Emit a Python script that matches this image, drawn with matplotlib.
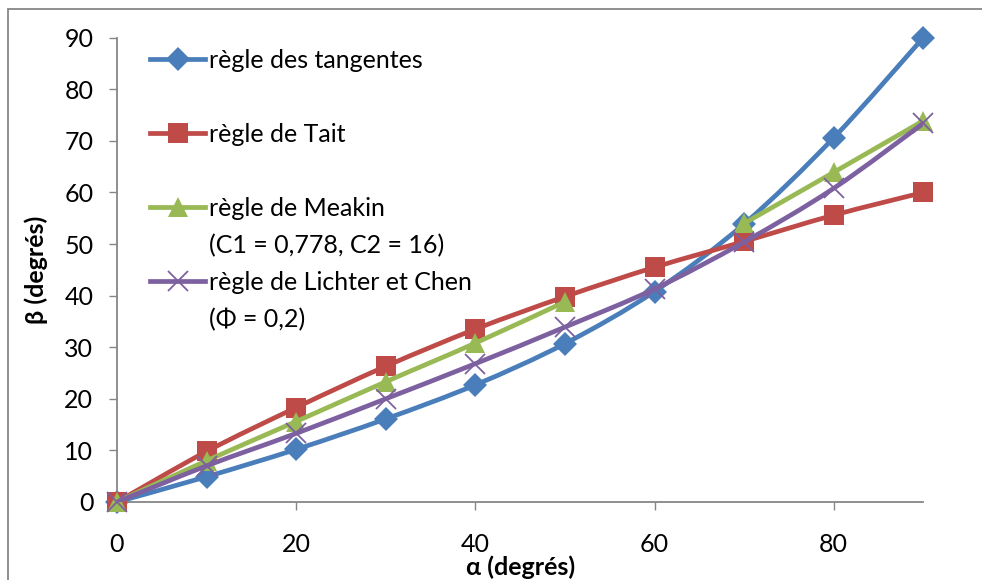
import numpy as np
import matplotlib
matplotlib.use("Agg")
import matplotlib.pyplot as plt
from matplotlib.path import Path
from matplotlib.patches import PathPatch, Rectangle
from matplotlib.lines import Line2D

plt.rcParams['font.family'] = ['Lato', 'DejaVu Sans']

# data
alpha = [0, 10, 20, 30, 40, 50, 60, 70, 80, 90]
tangentes = [0, 4.9, 10.2, 16.1, 22.7, 30.7, 40.8, 53.9, 70.6, 90]
tait = [0, 9.8, 18.3, 26.3, 33.5, 39.8, 45.5, 50.5, 55.6, 60]
meakin = [0, 8.0, 15.6, 23.3, 30.8, 38.8, None, 54.0, 63.9, 73.9]
lichter = [0, 7.0, 13.3, 20.0, 26.8, 33.9, 41.3, 50.4, 60.8, 73.4]

labels = ['règle des tangentes', 'règle de Tait',
          'règle de Meakin', 'règle de Lichter et Chen']
sublabels = ['', '', '(C1 = 0,778, C2 = 16)', '(Φ = 0,2)']
colors = ['#4A7EBB', '#BE4B48', '#98B954', '#7D60A0']
markers = ['D', 's', '^', 'x']
msizes = [12.5, 14, 15, 14]


def smooth_path(xs, ys):
    # Excel-style smoothed line: Catmull-Rom as cubic Bezier segments
    p = np.column_stack([xs, ys]).astype(float)
    n = len(p)
    verts = [p[0]]
    codes = [Path.MOVETO]
    for i in range(n - 1):
        p0 = p[i - 1] if i > 0 else p[i]
        p3 = p[i + 2] if i + 2 < n else p[i + 1]
        c1 = p[i] + (p[i + 1] - p0) / 6
        c2 = p[i + 1] - (p3 - p[i]) / 6
        verts += [c1, c2, p[i + 1]]
        codes += [Path.CURVE4] * 3
    return Path(verts, codes)


fig = plt.figure(figsize=(9.82, 5.8), dpi=100)
ax = fig.add_axes([0.1191, 0.1345, 0.8211, 0.8005])

# outer chart frame
fig.patches.append(Rectangle((7.5 / 982, -0.1), 1.2, 1 - 9 / 580 + 0.1,
                             transform=fig.transFigure, fill=False,
                             edgecolor='#868686', lw=1.3))

series = [tangentes, tait, meakin, lichter]
for k, ys in enumerate(series):
    # split on missing values
    seg_x, seg_y = [], []
    segs = []
    for a, b in zip(alpha, ys):
        if b is None:
            if seg_x:
                segs.append((seg_x, seg_y))
            seg_x, seg_y = [], []
        else:
            seg_x.append(a)
            seg_y.append(b)
    if seg_x:
        segs.append((seg_x, seg_y))
    for sx, sy in segs:
        if len(sx) > 1:
            ax.add_patch(PathPatch(smooth_path(sx, sy), fill=False,
                                   edgecolor=colors[k], lw=3.4,
                                   capstyle='round', joinstyle='round',
                                   zorder=2 + k))
        mew = 1.3 if markers[k] == 'x' else 0
        ax.plot(sx, sy, linestyle='none', marker=markers[k],
                markersize=msizes[k], color=colors[k],
                markeredgewidth=mew, zorder=2 + k, clip_on=False)

ax.set_xlim(0, 90)
ax.set_ylim(0, 90)
ax.set_xticks([0, 20, 40, 60, 80])
ax.set_yticks(range(0, 91, 10))
for s in ['top', 'right']:
    ax.spines[s].set_visible(False)
for s in ['left', 'bottom']:
    ax.spines[s].set_color('#868686')
    ax.spines[s].set_linewidth(1.3)
ax.tick_params(direction='out', length=6, width=1, color='#868686',
               labelsize=18, labelcolor='black')
ax.tick_params(axis='y', pad=11)
ax.tick_params(axis='x', pad=16)

ax.set_xlabel('α (degrés)', fontsize=18, fontweight='bold', labelpad=0)
ax.set_ylabel('β (degrés)', fontsize=18, fontweight='bold', labelpad=12)

# legend: each entry + its optional second line
blank = Line2D([], [], linestyle='none')
handles, texts = [], []
for k in range(4):
    handles.append(Line2D([], [], color=colors[k], lw=3.4, marker=markers[k],
                          markersize=msizes[k],
                          markeredgewidth=1.3 if markers[k] == 'x' else 0))
    texts.append(labels[k])
    handles.append(blank)
    texts.append(sublabels[k] if sublabels[k] else ' ')
ax.legend(handles, texts, loc='upper left', bbox_to_anchor=(0.041, 0.976),
          frameon=False, borderpad=0, borderaxespad=0, fontsize=18,
          handlelength=2.2, handletextpad=0.16, labelspacing=0.56)

fig.savefig('out.png', dpi=100)
